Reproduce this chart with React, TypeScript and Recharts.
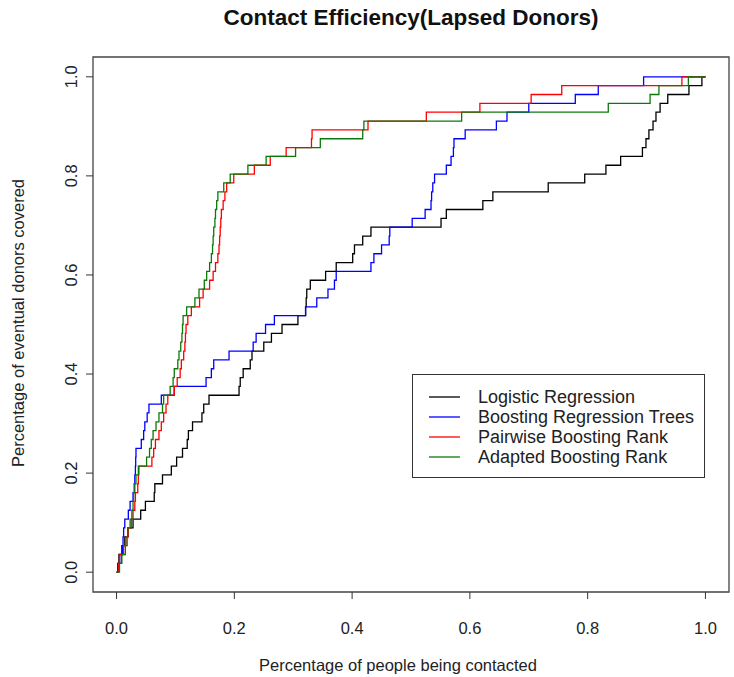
import React from 'react';
import { LineChart, Line, XAxis, YAxis, Legend, ReferenceArea } from 'recharts';

// each step in the picture is one donor out of 56
const DONORS = 56;

// [share of people contacted, donors covered so far]
const logistic = [
  [0, 0], [0.002, 1], [0.004, 2], [0.009, 3], [0.014, 4], [0.019, 5], [0.028, 6], [0.041, 7],
  [0.049, 8], [0.064, 9], [0.065, 10], [0.078, 11], [0.093, 12], [0.102, 13], [0.112, 14],
  [0.12, 15], [0.122, 16], [0.129, 17], [0.145, 18], [0.148, 19], [0.157, 20], [0.208, 21],
  [0.21, 22], [0.215, 23], [0.227, 24], [0.23, 25], [0.25, 26], [0.263, 27], [0.281, 28],
  [0.308, 29], [0.321, 30], [0.322, 31], [0.323, 32], [0.329, 33], [0.355, 34], [0.373, 35],
  [0.401, 36], [0.404, 37], [0.418, 38], [0.432, 39], [0.551, 40], [0.56, 41], [0.622, 42],
  [0.639, 43], [0.733, 44], [0.795, 45], [0.831, 46], [0.856, 47], [0.893, 48], [0.899, 49],
  [0.904, 50], [0.911, 51], [0.916, 52], [0.923, 53], [0.936, 54], [0.972, 55], [0.994, 56],
  [1.0, 56],
];

const boostTrees = [
  [0, 0], [0.003, 1], [0.008, 2], [0.01, 3], [0.011, 4], [0.012, 5], [0.014, 6], [0.02, 7],
  [0.023, 8], [0.028, 9], [0.03, 10], [0.031, 11], [0.032, 12], [0.0325, 13], [0.033, 14],
  [0.042, 15], [0.046, 16], [0.048, 17], [0.052, 18], [0.055, 19], [0.076, 20], [0.098, 21],
  [0.152, 22], [0.161, 23], [0.165, 24], [0.191, 25], [0.232, 26], [0.237, 27], [0.253, 28],
  [0.268, 29], [0.321, 30], [0.34, 31], [0.359, 32], [0.37, 33], [0.373, 34], [0.432, 35],
  [0.437, 36], [0.45, 37], [0.463, 38], [0.464, 39], [0.502, 40], [0.524, 41], [0.534, 42],
  [0.535, 43], [0.537, 44], [0.54, 45], [0.56, 46], [0.568, 47], [0.572, 48], [0.573, 49],
  [0.592, 50], [0.645, 51], [0.663, 52], [0.7, 53], [0.779, 54], [0.818, 55], [0.895, 56],
  [1.0, 56],
];

const pairwiseRank = [
  [0, 0], [0.003, 1], [0.005, 2], [0.012, 3], [0.016, 4], [0.02, 5], [0.025, 6], [0.028, 7],
  [0.031, 8], [0.032, 9], [0.036, 10], [0.037, 11], [0.038, 12], [0.06, 13], [0.063, 14],
  [0.066, 15], [0.072, 16], [0.076, 17], [0.08, 18], [0.084, 19], [0.087, 20], [0.098, 21],
  [0.103, 22], [0.108, 23], [0.11, 24], [0.114, 25], [0.116, 26], [0.117, 27], [0.118, 28],
  [0.121, 29], [0.127, 30], [0.141, 31], [0.147, 32], [0.158, 33], [0.164, 34], [0.168, 35],
  [0.172, 36], [0.174, 37], [0.175, 38], [0.176, 39], [0.177, 40], [0.178, 41], [0.181, 42],
  [0.184, 43], [0.187, 44], [0.199, 45], [0.234, 46], [0.261, 47], [0.288, 48], [0.331, 49],
  [0.332, 50], [0.427, 51], [0.526, 52], [0.617, 53], [0.704, 54], [0.756, 55], [0.96, 56],
  [1.0, 56],
];

const adaptedRank = [
  [0, 0], [0.005, 1], [0.009, 2], [0.015, 3], [0.018, 4], [0.019, 5], [0.023, 6], [0.026, 7],
  [0.028, 8], [0.029, 9], [0.031, 10], [0.033, 11], [0.037, 12], [0.051, 13], [0.056, 14],
  [0.059, 15], [0.062, 16], [0.067, 17], [0.072, 18], [0.078, 19], [0.08, 20], [0.091, 21],
  [0.096, 22], [0.098, 23], [0.104, 24], [0.106, 25], [0.109, 26], [0.111, 27], [0.112, 28],
  [0.113, 29], [0.119, 30], [0.133, 31], [0.14, 32], [0.149, 33], [0.153, 34], [0.158, 35],
  [0.161, 36], [0.163, 37], [0.164, 38], [0.165, 39], [0.167, 40], [0.168, 41], [0.17, 42],
  [0.172, 43], [0.182, 44], [0.193, 45], [0.223, 46], [0.254, 47], [0.304, 48], [0.346, 49],
  [0.418, 50], [0.42, 51], [0.586, 52], [0.835, 53], [0.906, 54], [0.921, 55], [0.971, 56],
  [1.0, 56],
];

const xTicks = [0, 0.2, 0.4, 0.6, 0.8, 1.0];
const yTicks = [0, 0.2, 0.4, 0.6, 0.8, 1.0];

const series = [
  { name: 'Logistic Regression', color: '#000000', steps: logistic },
  { name: 'Boosting Regression Trees', color: '#0000ff', steps: boostTrees },
  { name: 'Pairwise Boosting Rank', color: '#ff0000', steps: pairwiseRank },
  { name: 'Adapted Boosting Rank', color: '#0b7a0b', steps: adaptedRank },
];

const FONT = '"Liberation Sans", Arial, sans-serif';
const TEXT = '#222';

const toPoints = (steps: number[][]) => steps.map(([x, n]) => ({ x, y: n / DONORS }));

function XTick({ x, payload }: any) {
  return (
    <text x={x} y={634} textAnchor="middle" fontSize={16.5} fontFamily={FONT} fill={TEXT}>
      {payload.value.toFixed(1)}
    </text>
  );
}

function YTick({ y, payload }: any) {
  return (
    <text x={77} y={y} transform={`rotate(-90 77 ${y})`} textAnchor="middle" fontSize={16.5} fontFamily={FONT} fill={TEXT}>
      {payload.value.toFixed(1)}
    </text>
  );
}

function LegendBox() {
  return (
    <div style={{
      width: 293, height: 104, boxSizing: 'border-box', border: '1.3px solid #333', background: '#fff',
      paddingTop: 12, fontFamily: FONT, fontSize: 18, color: TEXT,
    }}>
      {series.map((s) => (
        <div key={s.name} style={{ display: 'flex', alignItems: 'center', height: 20 }}>
          <svg width={31} height={4} style={{ marginLeft: 16, marginRight: 18, flex: 'none' }}>
            <line x1={0} y1={2} x2={31} y2={2} stroke={s.color} strokeWidth={1.3} />
          </svg>
          <span style={{ whiteSpace: 'nowrap' }}>{s.name}</span>
        </div>
      ))}
    </div>
  );
}

export default function App() {
  return (
    <div style={{ position: 'absolute', left: 0, top: 0, width: 734, height: 677, background: '#fff' }}>
      <div style={{
        position: 'absolute', left: 0, top: 6, width: 822, textAlign: 'center', fontFamily: FONT,
        fontWeight: 'bold', fontSize: 22.5, lineHeight: '24px', color: '#111',
      }}>
        Contact Efficiency(Lapsed Donors)
      </div>
      <LineChart width={734} height={677} margin={{ top: 57, right: 5, bottom: 45, left: 0 }}>
        <XAxis
          type="number"
          dataKey="x"
          domain={[-0.04, 1.04]}
          ticks={xTicks}
          allowDataOverflow
          axisLine={false}
          tickSize={7}
          tickLine={{ stroke: '#333' }}
          tick={<XTick />}
          height={40}
          label={{
            content: () => (
              <text x={398} y={671} textAnchor="middle" fontSize={16.5} fontFamily={FONT} fill={TEXT}>
                Percentage of people being contacted
              </text>
            ),
          }}
        />
        <YAxis
          type="number"
          domain={[-0.04, 1.04]}
          ticks={yTicks}
          allowDataOverflow
          axisLine={false}
          tickSize={7}
          tickLine={{ stroke: '#333' }}
          tick={<YTick />}
          width={93}
          label={{
            content: () => (
              <text x={24} y={323} transform="rotate(-90 24 323)" textAnchor="middle" fontSize={16.5} fontFamily={FONT} fill={TEXT}>
                Percentage of eventual donors covered
              </text>
            ),
          }}
        />
        <ReferenceArea x1={-0.04} x2={1.04} y1={-0.04} y2={1.04} fill="none" stroke="#444" strokeWidth={1.3} />
        {series.map((s) => (
          <Line
            key={s.name}
            name={s.name}
            data={toPoints(s.steps)}
            dataKey="y"
            type="stepAfter"
            stroke={s.color}
            strokeWidth={1.3}
            dot={false}
            activeDot={false}
            isAnimationActive={false}
          />
        ))}
        <Legend
          layout="horizontal"
          verticalAlign="middle"
          align="center"
          content={() => <LegendBox />}
          wrapperStyle={{ left: 412, top: 374, width: 293, height: 104 }}
        />
      </LineChart>
    </div>
  );
}
